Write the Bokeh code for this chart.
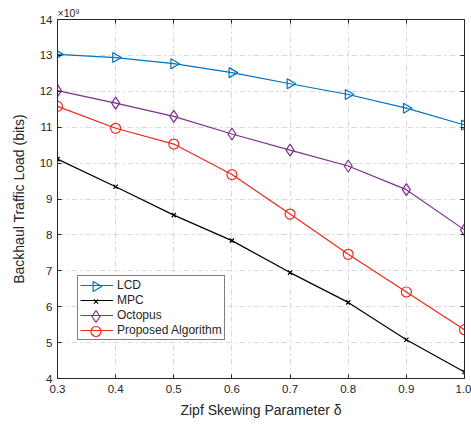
import math
from bokeh.plotting import figure
from bokeh.models import (LinearAxis, Range1d, Legend, LegendItem,
                          FixedTicker)
from bokeh.embed import file_html
from bokeh.resources import INLINE

x_vals = [0.3, 0.4, 0.5, 0.6, 0.7, 0.8, 0.9, 1.0]
lcd = [13.03, 12.94, 12.77, 12.52, 12.21, 11.91, 11.53, 11.06]
mpc = [10.11, 9.34, 8.55, 7.84, 6.95, 6.12, 5.08, 4.18]
octopus = [12.02, 11.67, 11.30, 10.81, 10.36, 9.92, 9.26, 8.14]
proposed = [11.58, 10.97, 10.53, 9.68, 8.58, 7.46, 6.41, 5.36]
x_ticks = [0.3, 0.4, 0.5, 0.6, 0.7, 0.8, 0.9, 1.0]
y_ticks = [4, 5, 6, 7, 8, 9, 10, 11, 12, 13, 14]
X0, X1, Y0, Y1 = 0.3, 1.0, 4, 14

FONT = "Liberation Sans"
AX = "#262626"
W, H = 471, 425
BL, BR, BT, BB = 57, 7, 19, 47
FW, FH = W - BL - BR, H - BT - BB

p = figure(width=W, height=H, output_backend="svg", toolbar_location=None,
           x_range=Range1d(X0, X1), y_range=Range1d(Y0, Y1),
           min_border_left=BL, min_border_right=BR, min_border_top=BT,
           min_border_bottom=BB, x_axis_label="Zipf Skewing Parameter δ",
           y_axis_label="Backhaul Traffic Load (bits)",
           title="×10⁹")
p.outline_line_color = None
p.background_fill_color = "white"
p.title.text_font = FONT
p.title.text_font_size = "10.5px"
p.title.text_font_style = "normal"
p.title.text_color = AX
p.title.align = "left"
p.title.offset = 0
p.title.standoff = 1

for ax, ticks in ((p.xaxis[0], x_ticks), (p.yaxis[0], y_ticks)):
    ax.ticker = FixedTicker(ticks=ticks)
    ax.major_tick_in = 4
    ax.major_tick_out = 0
    ax.minor_tick_line_color = None
    ax.axis_line_color = AX
    ax.major_tick_line_color = AX
    ax.major_label_text_font = FONT
    ax.major_label_text_font_size = "11.5px"
    ax.major_label_text_color = AX
    ax.axis_label_text_font = FONT
    ax.axis_label_text_font_size = "14px"
    ax.axis_label_text_font_style = "normal"
    ax.axis_label_text_color = AX
p.xaxis[0].major_label_standoff = 6
p.xaxis[0].axis_label_standoff = 6
p.yaxis[0].major_label_standoff = 5
p.yaxis[0].axis_label_standoff = 10
p.xaxis[0].major_label_overrides = {1.0: "1.0"}

for loc, ticks in (("above", x_ticks), ("right", y_ticks)):
    a = LinearAxis(ticker=FixedTicker(ticks=ticks), major_tick_in=4,
                   major_tick_out=0, minor_tick_line_color=None,
                   axis_line_color=AX, major_tick_line_color=AX,
                   major_label_overrides={t: "" for t in ticks},
                   major_label_standoff=0)
    p.add_layout(a, loc)

p.xgrid.ticker = FixedTicker(ticks=x_ticks)
p.ygrid.ticker = FixedTicker(ticks=y_ticks)
for g in (p.xgrid[0], p.ygrid[0]):
    g.grid_line_color = "#d9d9d9"
    g.grid_line_dash = "6 3 2 3"
    g.grid_line_width = 1

# legend geometry (pixels from the frame's bottom-left corner)
LEG_X, LEG_Y, PAD, GW, ROW, SP = 20, 38, 2, 33, 14, 1
N_ITEMS = 4
leg_h = 2 * PAD + ROW * N_ITEMS + SP * (N_ITEMS - 1)
sx = (X1 - X0) / FW
sy = (Y1 - Y0) / FH

# opaque white backing for the (transparent) legend, drawn above the grid
p.quad(left=[X0 + (LEG_X - 1) * sx], right=[X0 + (LEG_X + 150) * sx],
       bottom=[Y0 + (LEG_Y - 1) * sy], top=[Y0 + (LEG_Y + leg_h + 2) * sy],
       fill_color="white", line_color=None)

BLUE = "#0072BD"
series = [
    ("LCD", lcd, BLUE, "triangle", 10, -math.pi / 2),
    ("MPC", mpc, "black", "x", 6, 0),
    ("Octopus", octopus, "#7E2F8E", "diamond", 12, 0),
    ("Proposed Algorithm", proposed, "#F0281E", "circle", 10, 0),
]
items = []
for i, (name, ys, col, mk, sz, ang) in enumerate(series):
    lr = p.line(x_vals, ys, line_color=col, line_width=1.2)
    p.scatter(x_vals, ys, marker=mk, size=sz, angle=ang,
              line_color=col, fill_color=None, line_width=1.2)
    items.append(LegendItem(label=name, renderers=[lr]))
    # full-size (and rotated) legend marker at the legend glyph's centre
    p.scatter([X0 + (LEG_X + PAD + GW / 2) * sx],
              [Y0 + (LEG_Y + leg_h - PAD - ROW / 2 - i * (ROW + SP)) * sy],
              marker=mk, size=sz, angle=ang, line_color=col,
              fill_color="white", line_width=1.2)

leg = Legend(items=items, location=(LEG_X, LEG_Y), orientation="vertical",
             border_line_color="black", border_line_width=1,
             background_fill_alpha=0,
             label_text_font=FONT, label_text_font_size="12px",
             label_text_color=AX, glyph_width=GW, glyph_height=ROW,
             label_height=ROW, label_standoff=4, spacing=SP, padding=PAD,
             margin=0)
p.add_layout(leg, "center")

open("out.html", "w").write(file_html(p, INLINE))
